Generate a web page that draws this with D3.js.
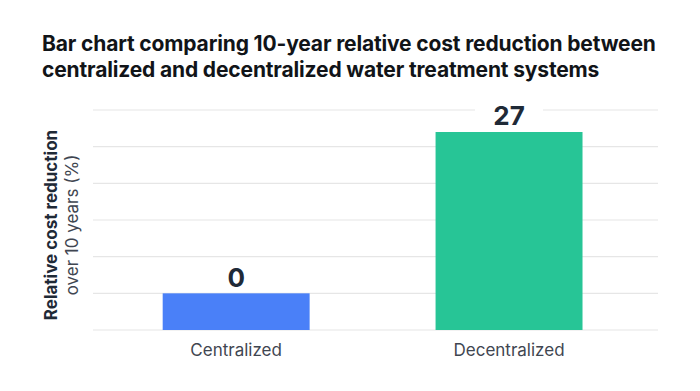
<!DOCTYPE html>
<html>
<head>
<meta charset="utf-8">
<script src="https://cdn.jsdelivr.net/npm/d3@7"></script>
<style>
  body { margin: 0; background: #fff; }
  text { font-family: Inter, "Noto Sans", sans-serif; }
</style>
</head>
<body>
<div id="chart"></div>
<script>
// data
var categories = ["Centralized", "Decentralized"];
var values = [0, 27];
var barColors = ["#4a80f8", "#27c596"];
var gridTicks = [0, 5, 10, 15, 20, 25, 30];
var titleLines = ["Bar chart comparing 10-year relative cost reduction between",
                  "centralized and decentralized water treatment systems"];
var yLabelLines = ["Relative cost reduction", "over 10 years (%)"];

var width = 700;
var height = 391;
var margin = { top: 110, right: 42, bottom: 61, left: 93 };

var boundedWidth = width - margin.left - margin.right;
var boundedHeight = height - margin.top - margin.bottom;

var svg = d3.select("#chart").append("svg")
    .attr("width", width)
    .attr("height", height);

// title
svg.append("g").selectAll("text")
    .data(titleLines).enter()
    .append("text")
    .attr("x", 42)
    .attr("y", (d, i) => 51 + i * 26)
    .attr("font-size", 21)
    .attr("font-weight", 700)
    .attr("letter-spacing", "-0.15px")
    .attr("fill", "#111418")
    .text(d => d);

var bounds = svg.append("g")
    .attr("transform", `translate(${margin.left}, ${margin.top})`);

var xScale = d3.scaleBand()
    .domain(categories)
    .range([0, boundedWidth])
    .paddingInner(0.4615)
    .paddingOuter(0.266)
    .align(0.48);

var yScale = d3.scaleLinear()
    .domain([0, 30])
    .range([boundedHeight, 0]);

// gridlines
bounds.selectAll(".grid")
    .data(gridTicks).enter()
    .append("line")
    .attr("class", "grid")
    .attr("x1", 0)
    .attr("x2", boundedWidth)
    .attr("y1", d => yScale(d))
    .attr("y2", d => yScale(d))
    .attr("stroke", "#e6e6e6")
    .attr("stroke-width", 1.2);

// zero-value bars still get one grid step so they stay visible
var minShown = 5;

var data = categories.map((c, i) => ({ name: c, value: values[i], color: barColors[i] }));

bounds.selectAll(".bar")
    .data(data).enter()
    .append("rect")
    .attr("class", "bar")
    .attr("x", d => xScale(d.name))
    .attr("width", xScale.bandwidth())
    .attr("y", d => yScale(Math.max(d.value, minShown)))
    .attr("height", d => boundedHeight - yScale(Math.max(d.value, minShown)))
    .attr("fill", d => d.color);

// value labels with white halo behind
var labels = bounds.selectAll(".valueLabel")
    .data(data).enter()
    .append("g")
    .attr("class", "valueLabel")
    .attr("transform", d => `translate(${xScale(d.name) + xScale.bandwidth() / 2}, ${yScale(Math.max(d.value, minShown)) - 16})`);

labels.append("rect")
    .attr("x", -34)
    .attr("y", -14)
    .attr("width", 68)
    .attr("height", 28)
    .attr("fill", "#fff");

labels.append("text")
    .attr("text-anchor", "middle")
    .attr("dy", "0.36em")
    .attr("font-size", 26)
    .attr("font-weight", 700)
    .attr("fill", "#1f2a37")
    .text(d => d.value);

// x axis labels
bounds.selectAll(".catLabel")
    .data(categories).enter()
    .append("text")
    .attr("class", "catLabel")
    .attr("x", d => xScale(d) + xScale.bandwidth() / 2)
    .attr("y", boundedHeight + 26)
    .attr("text-anchor", "middle")
    .attr("font-size", 17)
    .attr("fill", "#3f4651")
    .text(d => d);

// y axis label
var yLabel = svg.append("text")
    .attr("transform", `translate(57, 225) rotate(-90)`)
    .attr("text-anchor", "middle")
    .attr("fill", "#1f2a37");

yLabel.append("tspan")
    .attr("x", 0)
    .attr("y", 0)
    .attr("font-size", 17)
    .attr("font-weight", 700)
    .text(yLabelLines[0]);

yLabel.append("tspan")
    .attr("x", 0)
    .attr("y", 21)
    .attr("font-size", 17)
    .attr("fill", "#3f4651")
    .text(yLabelLines[1]);
</script>
</body>
</html>
